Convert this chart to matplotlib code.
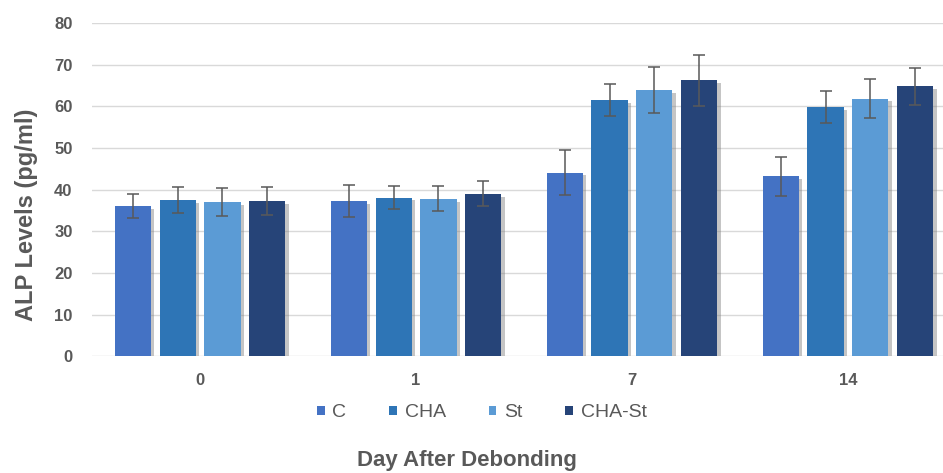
import numpy as np
import matplotlib.pyplot as plt
import matplotlib.patheffects as pe

plt.rcParams['font.family'] = ['Liberation Sans', 'DejaVu Sans']

# дані
days = ['0', '1', '7', '14']
groups = ['C', 'CHA', 'St', 'CHA-St']
means = {
    'C':      [36.0, 37.3, 44.1, 43.2],
    'CHA':    [37.5, 38.1, 61.6, 59.9],
    'St':     [37.0, 37.8, 63.9, 61.9],
    'CHA-St': [37.3, 39.0, 66.3, 64.8],
}
errs = {
    'C':      [2.9, 3.8, 5.4, 4.7],
    'CHA':    [3.2, 2.8, 3.9, 3.9],
    'St':     [3.4, 3.0, 5.5, 4.8],
    'CHA-St': [3.3, 3.0, 6.1, 4.4],
}
colors = ['#4472C4', '#2E75B6', '#5B9BD5', '#264478']
txt = '#595959'

fig = plt.figure(figsize=(9.43, 4.73), dpi=100)
ax = fig.add_axes([0.0976, 0.247, 0.9024, 0.704])

x = np.arange(len(days))
w = 0.167
step = 0.208
shadow = [pe.SimplePatchShadow(offset=(2.5, -2), shadow_rgbFace='#808080', alpha=0.45), pe.Normal()]
for i, g in enumerate(groups):
    pos = x + (i - 1.5) * step
    bars = ax.bar(pos, means[g], width=w, color=colors[i], label=g, zorder=3)
    for b in bars:
        b.set_path_effects(shadow)
    ax.errorbar(pos, means[g], yerr=errs[g], fmt='none', ecolor=txt, elinewidth=1.1,
                capsize=4, capthick=1.1, zorder=4)

ax.set_ylim(0, 80)
ax.set_yticks(np.arange(0, 81, 10))
ax.set_xlim(-0.5, 3.44)
ax.set_xticks(x)
ax.set_xticklabels(days)
ax.grid(axis='y', color='#d9d9d9', lw=1, zorder=0)
for s in ax.spines.values():
    s.set_visible(False)
ax.tick_params(length=0, colors=txt, labelsize=12)
ax.tick_params(axis='y', pad=14)
ax.tick_params(axis='x', pad=12)
for lab in ax.get_xticklabels() + ax.get_yticklabels():
    lab.set_fontweight('bold')

fig.text(0.0276, 0.545, 'ALP Levels (pg/ml)', rotation=90, ha='center', va='center',
         fontsize=17, fontweight='bold', color=txt)

leg = fig.legend(loc='center', bbox_to_anchor=(0.511, 0.127), ncol=4, frameon=False,
                 handlelength=0.4, handleheight=0.4, handletextpad=0.4, columnspacing=2.2,
                 fontsize=14, labelcolor=txt)
for h in leg.legend_handles:
    h.set_path_effects([])
fig.text(0.495, 0.027, 'Day After Debonding', ha='center', va='center',
         fontsize=16, fontweight='bold', color=txt)

plt.savefig('out.png', dpi=100)
